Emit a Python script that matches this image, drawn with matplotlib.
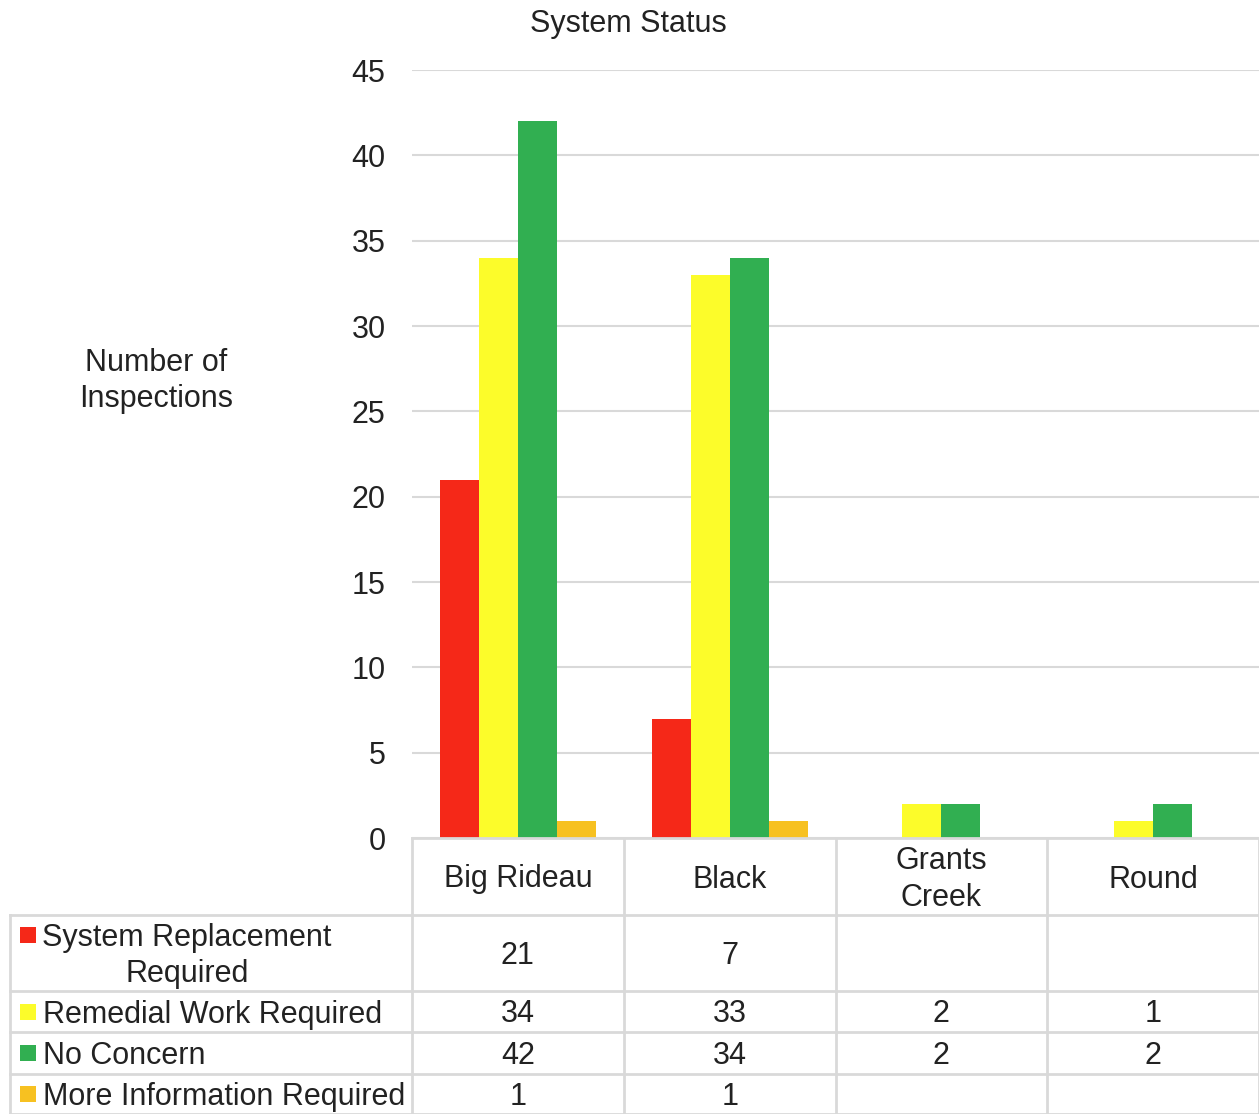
import numpy as np
import matplotlib.pyplot as plt

plt.rcParams['font.family'] = ['Liberation Sans', 'DejaVu Sans']

# data
categories = ['Big Rideau', 'Black', 'Grants\nCreek', 'Round']
series_names = ['System Replacement\nRequired', 'Remedial Work Required',
                'No Concern', 'More Information Required']
replacement = [21, 7, None, None]
remedial = [34, 33, 2, 1]
no_concern = [42, 34, 2, 2]
more_info = [1, 1, None, None]
series_values = [replacement, remedial, no_concern, more_info]
colors = ['#F52818', '#FCFC2A', '#31AF51', '#F7C121']
yticks = list(range(0, 46, 5))

W, H = 1259, 1114
fs = 22
tc = '#222222'
dy = 3  # small downward nudge for text in the table
fig = plt.figure(figsize=(W / 100, H / 100), dpi=100)

# plot area in pixels
px_left, px_right, px_top, px_bottom = 412, 1259, 70, 838
ax = fig.add_axes([px_left / W, 1 - px_bottom / H,
                   (px_right - px_left) / W, (px_bottom - px_top) / H])

n = len(categories)
x = np.arange(n) + 0.5
bw = 39 / ((px_right - px_left) / n)
for i, vals in enumerate(series_values):
    v = np.array([np.nan if a is None else a for a in vals], dtype=float)
    ax.bar(x + (i - 1.5) * bw, v, width=bw, color=colors[i], linewidth=0, zorder=3)

ax.set_xlim(0, n)
ax.set_ylim(0, 45)
ax.set_yticks(yticks)
ax.set_xticks([])
ax.tick_params(axis='y', length=0, pad=19, labelsize=fs, labelcolor=tc)
ax.grid(axis='y', color='#d9d9d9', linewidth=1.5, zorder=0)
for s in ax.spines.values():
    s.set_visible(False)

fig.text(628 / W, 1 - 24 / H, 'System Status', ha='center', va='center',
         fontsize=fs, color=tc)
fig.text(156 / W, 1 - 381 / H, 'Number of\nInspections', ha='center', va='center',
         fontsize=fs, color=tc, linespacing=1.27)

# data table under the chart
tab_left = 10
cat_px = (px_right - px_left) / n
x_min = (tab_left - px_left) / cat_px
tab = fig.add_axes([tab_left / W, 0, (W - tab_left) / W, (H - px_bottom) / H])
tab.set_xlim(x_min, n)
tab.set_ylim(H, px_bottom)
tab.axis('off')

row_edges = [px_bottom, 915, 991, 1032, 1074, H]
lc = '#d9d9d9'
lw = 2
tab.plot([0, n], [px_bottom, px_bottom], color=lc, lw=lw, clip_on=False)
for y in row_edges[1:]:
    tab.plot([x_min, n], [y, y], color=lc, lw=lw, clip_on=False)
for c in range(n + 1):
    tab.plot([c, c], [px_bottom, H], color=lc, lw=lw, clip_on=False)
tab.plot([x_min, x_min], [915, H], color=lc, lw=lw, clip_on=False)

hdr_y = (row_edges[0] + row_edges[1]) / 2 + dy
for c, name in enumerate(categories):
    tab.text(c + 0.5, hdr_y, name, ha='center', va='center', fontsize=fs,
             color=tc, linespacing=1.27)

sq = 16 / cat_px
for r, (name, vals) in enumerate(zip(series_names, series_values)):
    y0, y1 = row_edges[r + 1], row_edges[r + 2]
    yc = (y0 + y1) / 2
    if '\n' in name:
        tab.add_patch(plt.Rectangle((x_min + 10 / cat_px, yc - 26), sq, 16,
                                    color=colors[r], lw=0))
        tab.text(x_min + 177 / cat_px, yc + dy, name, ha='center', va='center',
                 fontsize=fs, color=tc, linespacing=1.27)
    else:
        tab.add_patch(plt.Rectangle((x_min + 10 / cat_px, yc - 8), sq, 16,
                                    color=colors[r], lw=0))
        tab.text(x_min + 33 / cat_px, yc + dy, name, ha='left', va='center',
                 fontsize=fs, color=tc)
    for c, v in enumerate(vals):
        if v is not None:
            tab.text(c + 0.5, yc + dy, str(v), ha='center', va='center', fontsize=fs,
                     color=tc)

fig.savefig('out.png', dpi=100)
